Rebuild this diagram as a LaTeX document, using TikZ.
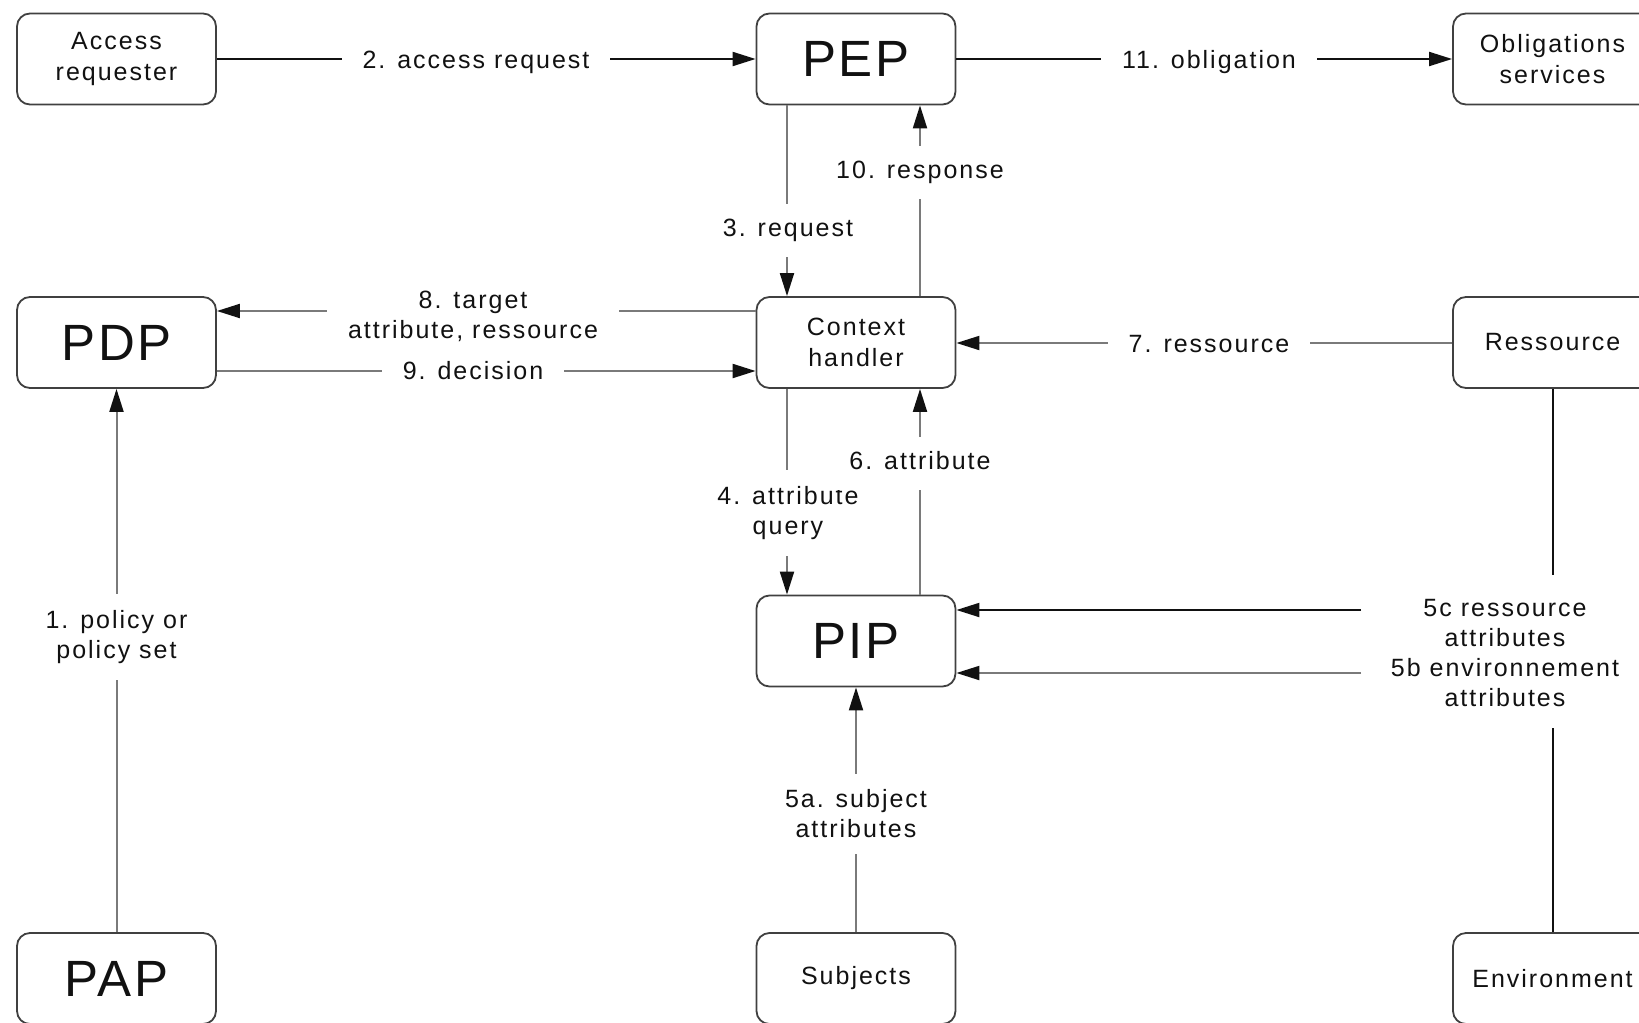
\documentclass[tikz,border=0pt]{standalone}
\usepackage{fontspec}
\setmainfont{Liberation Sans}
\newfontfamily\lblfont[LetterSpace=8]{Liberation Sans}
\newfontfamily\bigfont[LetterSpace=5]{Liberation Sans}
\usetikzlibrary{arrows.meta}
\definecolor{ink}{HTML}{111111}
\definecolor{lgray}{HTML}{7A7A7A}
\definecolor{bord}{HTML}{404040}
\begin{document}
\begin{tikzpicture}[x=1pt,y=-1pt,
  box/.style={draw=bord, line width=1.8pt, rounded corners=13pt,
    minimum width=199pt, minimum height=91pt, align=center, inner sep=0pt,
    text=ink, font={\lblfont\fontsize{25}{31}\selectfont}},
  bigbox/.style={box, font={\bigfont\fontsize{51}{56}\selectfont}},
  lbl/.style={fill=white, text=ink, inner xsep=21pt, inner ysep=15pt,
    text height=18pt, text depth=5pt, font={\lblfont\fontsize{25}{30}\selectfont}},
  mlbl/.style={fill=white, text=ink, align=center, inner xsep=21pt, inner ysep=16pt,
    font={\lblfont\fontsize{25}{30}\selectfont}},
  tlbl/.style={text=ink, align=center, inner sep=0pt,
    font={\lblfont\fontsize{25}{30}\selectfont}},
  blk/.style={draw=ink, line width=2pt},
  gry/.style={draw=lgray, line width=2pt},
  arr/.style={-{Triangle[length=23pt,width=14pt,color=ink,fill=ink]}}
]
\path[use as bounding box] (0,0) rectangle (1639,1023);
\clip (0,0) rectangle (1639,1023);

% boxes
\node[box]    (acc)  at (116.5,59)    {Access\\requester};
\node[bigbox] (pep)  at (856,59)      {PEP};
\node[box]    (obl)  at (1552.5,59)   {Obligations\\services};
\node[bigbox] (pdp)  at (116.5,342.5) {PDP};
\node[box]    (ch)   at (856,342.5)   {Context\\handler};
\node[box]    (res)  at (1552.5,342.5){Ressource};
\node[bigbox] (pip)  at (856,641)     {PIP};
\node[bigbox] (pap)  at (116.5,978.5) {PAP};
\node[box]    (subj) at (856,978.5)   {Subjects};
\node[box]    (env)  at (1552.5,978.5){Environment};

% helper coordinates
\coordinate (xl) at (787,0);
\coordinate (xr) at (920,0);
\coordinate (y2) at (0,59);
\coordinate (y7) at (0,343);
\coordinate (y8) at (0,311);
\coordinate (y9) at (0,371);
\coordinate (y5c) at (0,610);
\coordinate (y5b) at (0,673);
\coordinate (x5) at (1361,0);
\coordinate (ytop5) at (0,575);
\coordinate (ybot5) at (0,728);
\coordinate (s5c) at (x5 |- y5c);
\coordinate (s5b) at (x5 |- y5b);
\coordinate (e5c) at (res.south |- ytop5);
\coordinate (e5b) at (env.north |- ybot5);

% connectors
\draw[blk,arr] (acc.east |- y2) -- (pep.west |- y2);
\draw[blk,arr] (pep.east |- y2) -- (obl.west |- y2);
\draw[gry,arr] (pep.south -| xl) -- (ch.north -| xl);
\draw[gry,arr] (ch.north -| xr) -- (pep.south -| xr);
\draw[gry,arr] (ch.west |- y8) -- (pdp.east |- y8);
\draw[gry,arr] (pdp.east |- y9) -- (ch.west |- y9);
\draw[gry,arr] (res.west |- y7) -- (ch.east |- y7);
\draw[gry,arr] (ch.south -| xl) -- (pip.north -| xl);
\draw[gry,arr] (pip.north -| xr) -- (ch.south -| xr);
\draw[gry,arr] (subj) -- (pip);
\draw[gry,arr] (pap) -- (pdp);
\draw[blk] (res) -- (e5c);
\draw[blk] (env) -- (e5b);
\draw[blk,arr] (s5c) -- (pip.east |- y5c);
\draw[gry,arr] (s5b) -- (pip.east |- y5b);

% labels
\node[lbl]  (l2)  at (476,61.5)    {2. access request};
\node[lbl]  (l11) at (1209,61.5)   {11. obligation};
\node[lbl]  (l3)  at (788,230)     {3. request};
\node[lbl]  (l10) at (920,172)     {10. response};
\node[mlbl] (l8)  at (473,316)     {8. target\\attribute, ressource};
\node[lbl]  (l9)  at (473,373)     {9. decision};
\node[lbl]  (l7)  at (1209,345.5)  {7. ressource};
\node[mlbl] (l4)  at (788,513)     {4. attribute\\query};
\node[lbl]  (l6)  at (920,463)     {6. attribute};
\node[mlbl] (l5a) at (856,814)     {5a. subject\\attributes};
\node[mlbl] (l1)  at (116.5,637)   {1. policy or\\policy set};
\node[tlbl] (l5)  at (1505,653)    {5c ressource\\attributes\\5b environnement\\attributes};
\end{tikzpicture}
\end{document}
